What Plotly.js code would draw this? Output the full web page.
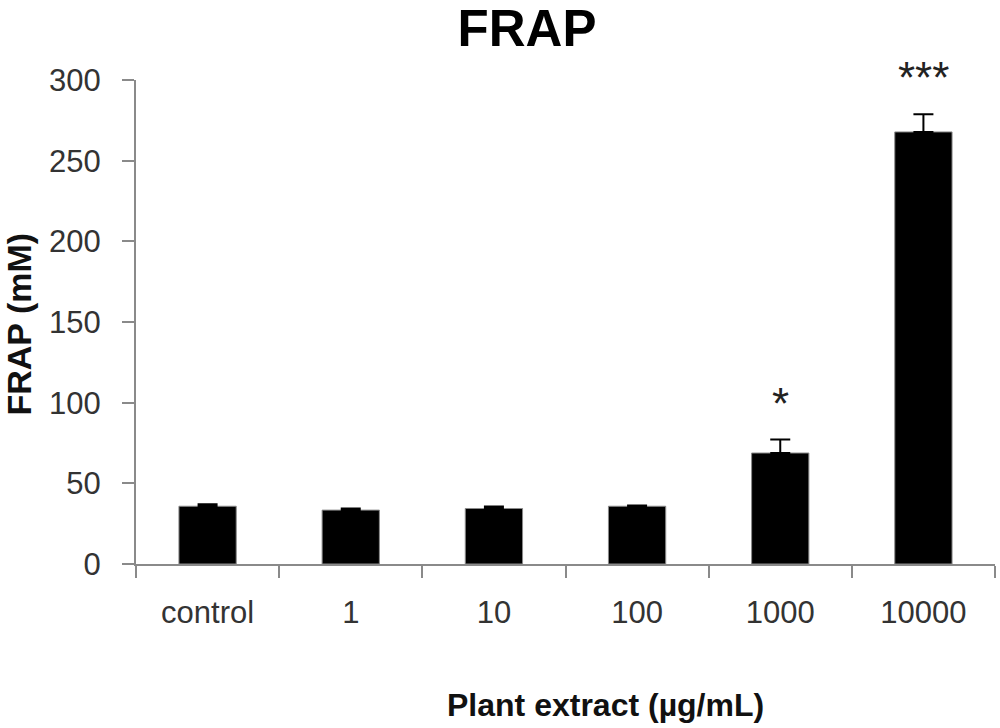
<!DOCTYPE html>
<html>
<head>
<meta charset="utf-8">
<script src="https://cdn.plot.ly/plotly-3.0.1.min.js"></script>
<style>html,body{margin:0;padding:0;background:#fff;}#chart{width:1000px;height:728px;}</style>
</head>
<body>
<div id="chart"></div>
<script>
const categories = ["control", "1", "10", "100", "1000", "10000"];
const frapValues = [35.8, 33.4, 34.4, 35.8, 68.8, 267.8];
const frapErrors = [1.2, 1.0, 1.2, 0.4, 8.3, 11.0];
const significance = ["", "", "", "", "*", "***"];
const yTicks = [0, 50, 100, 150, 200, 250, 300];

const trace = {
  type: "bar",
  x: categories,
  y: frapValues,
  marker: {color: "#000000", line: {color: "#8a8a8a", width: 1}},
  error_y: {type: "data", symmetric: false, array: frapErrors, arrayminus: frapErrors.map(() => 0),
            color: "#000000", thickness: 2, width: 10},
  hoverinfo: "skip"
};

const annotations = [];
categories.forEach((c, i) => {
  if (significance[i]) {
    annotations.push({x: i, y: frapValues[i] + frapErrors[i], xref: "x", yref: "y",
      text: significance[i], showarrow: false, yanchor: "bottom", yshift: 10,
      font: {family: "Liberation Sans, Arial, sans-serif", size: 44, color: "#222"}});
  }
});
annotations.push({text: "<b>Plant extract (µg/mL)</b>", xref: "paper", yref: "paper",
  x: 0.546, y: -0.291, xanchor: "center", yanchor: "middle", showarrow: false,
  font: {family: "Liberation Sans, Arial, sans-serif", size: 32, color: "#111"}});
annotations.push({text: "<b>FRAP (mM)</b>", xref: "paper", yref: "paper",
  x: -0.1367, y: 0.496, xanchor: "center", yanchor: "middle", textangle: -90, showarrow: false,
  font: {family: "Liberation Sans, Arial, sans-serif", size: 34, color: "#111"}});

const layout = {
  width: 1000, height: 728,
  margin: {l: 136, r: 5, t: 80, b: 164},
  paper_bgcolor: "#fff", plot_bgcolor: "#fff",
  showlegend: false,
  bargap: 0.6,
  title: {text: "<b>FRAP</b>", xref: "container", yref: "container", x: 0.527, y: 0.962,
          xanchor: "center", yanchor: "middle",
          font: {family: "Liberation Sans, Arial, sans-serif", size: 51, color: "#000"}},
  xaxis: {
    type: "category", range: [-0.5, categories.length - 0.5], autorange: false,
    categoryorder: "array", categoryarray: categories, tickangle: 0,
    showline: true, linecolor: "#8a8a8a", linewidth: 2,
    ticks: "outside", tickson: "boundaries", ticklen: 12, tickcolor: "#8a8a8a", tickwidth: 2,
    showgrid: false, zeroline: false, ticklabelstandoff: 20,
    tickfont: {family: "Liberation Sans, Arial, sans-serif", size: 31, color: "#333"}
  },
  yaxis: {
    range: [0, 300], autorange: false, tickvals: yTicks, ticktext: yTicks.map(String),
    showline: true, linecolor: "#8a8a8a", linewidth: 2,
    ticks: "outside", ticklen: 12, tickcolor: "#8a8a8a", tickwidth: 2,
    showgrid: false, zeroline: false, ticklabelstandoff: 15,
    tickfont: {family: "Liberation Sans, Arial, sans-serif", size: 31, color: "#333"}
  },
  annotations: annotations
};

Plotly.newPlot("chart", [trace], layout, {displayModeBar: false, staticPlot: true});
</script>
</body>
</html>
